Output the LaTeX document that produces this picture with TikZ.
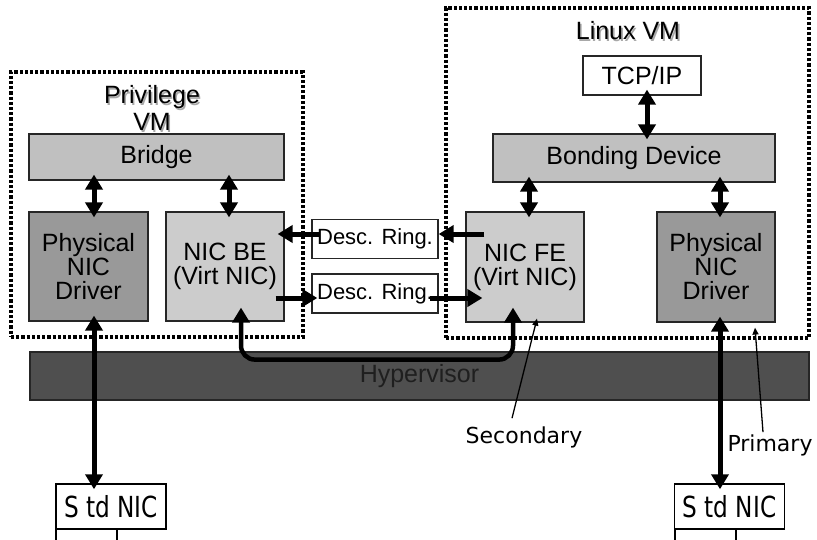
\documentclass[tikz,border=0pt]{standalone}
\usepackage{fontspec}
\setmainfont{Liberation Sans}
\newfontfamily\labelfont{DejaVu Sans}
\newfontfamily\nicfont[FakeStretch=0.8]{DejaVu Sans}
\usetikzlibrary{arrows.meta}
\definecolor{bridgegray}{HTML}{C0C0C0}
\definecolor{virtgray}{HTML}{CCCCCC}
\definecolor{physgray}{HTML}{999999}
\definecolor{hypergray}{HTML}{4F4F4F}
\definecolor{edgegray}{HTML}{262626}
\definecolor{shadowgray}{HTML}{A8A8A8}

\tikzset{bigtip/.tip={Triangle[length=15pt,width=17pt]}}

\begin{document}
\begin{tikzpicture}[x=1pt,y=1pt,
  box/.style={draw=edgegray, line width=1.2pt, inner sep=0pt, align=center,
              font=\fontsize{25}{24}\selectfont},
  ringbox/.style={draw=edgegray, line width=1.3pt, fill=white, inner sep=0pt,
              minimum width=126pt, minimum height=39pt, font=\fontsize{22}{24}\selectfont},
  nicbox/.style={draw=black, line width=1.5pt, fill=white, inner sep=0pt,
              minimum width=110pt, minimum height=45pt, font=\nicfont\fontsize{29}{30}\selectfont},
  stubbox/.style={draw=black, line width=1.3pt, fill=white, inner sep=0pt,
              minimum width=61pt, minimum height=20pt},
  vmframe/.style={draw=black, line width=3.2pt, dash pattern=on 3.2pt off 2pt, inner sep=0pt},
  vmtitle/.style={align=center, font=\fontsize{25}{27}\selectfont, inner sep=0pt},
  dbl/.style={line width=5pt, {bigtip}-{bigtip}, shorten <=-6pt, shorten >=-6pt},
  one/.style={line width=5pt, -{bigtip}},
  pointer/.style={line width=1.3pt, -{Triangle[length=7pt,width=6pt]}},
  note/.style={font=\labelfont\fontsize{22}{24}\selectfont, inner sep=0pt},
]
\useasboundingbox (0,0) rectangle (817,-539);
\fill[white] (0,0) rectangle (817,-539);

% --- virtual machine frames ---
\node[vmframe, minimum width=292pt, minimum height=265pt] (privvm) at (157,-204.5) {};
\node[vmframe, minimum width=363pt, minimum height=330pt] (linuxvm) at (627.5,-173) {};

% frame titles with a soft drop shadow
\node[vmtitle, text=shadowgray] at (153.5,-109.5) {Privilege\\VM};
\node[vmtitle] (privtitle) at (152,-108) {Privilege\\VM};
\node[vmtitle, text=shadowgray] at (629.5,-32.5) {Linux VM};
\node[vmtitle] (linuxtitle) at (628,-31) {Linux VM};

% --- hypervisor ---
\node[box, fill=hypergray, text=black!88, minimum width=779pt, minimum height=48pt] (hyper) at (419.5,-376) {Hypervisor};

% --- privilege VM components ---
\node[box, fill=bridgegray, minimum width=255pt, minimum height=46pt] (bridge) at (156.5,-157) {Bridge};
\node[box, fill=physgray, minimum width=119pt, minimum height=109pt] (physL) at (88.5,-266.5) {Physical\\NIC\\Driver};
\node[box, fill=virtgray, minimum width=118pt, minimum height=109pt] (nicbe) at (225,-266.5) {NIC BE\\(Virt NIC)};

% --- descriptor rings ---
\node[ringbox] (ring1) at (375,-239) {Desc. Ring.};
\node[ringbox] (ring2) at (375,-293.5) {Desc. Ring.};

% --- Linux VM components ---
\node[box, fill=white, minimum width=118pt, minimum height=39pt] (tcp) at (642,-75.5) {TCP/IP};
\node[box, fill=bridgegray, minimum width=282pt, minimum height=48pt] (bond) at (634,-158) {Bonding Device};
\node[box, fill=virtgray, minimum width=118pt, minimum height=110pt] (nicfe) at (525,-267) {NIC FE\\(Virt NIC)};
\node[box, fill=physgray, minimum width=118pt, minimum height=110pt] (physR) at (716,-267) {Physical\\NIC\\Driver};

% --- standard NICs ---
\node[stubbox] (stubL) at (86.5,-539) {};
\node[stubbox] (stubR) at (705.5,-539) {};
\node[nicbox] (stdL) at (111,-506.5) {S td NIC};
\node[nicbox] (stdR) at (729.5,-506.5) {S td NIC};

% --- vertical data paths ---
\draw[dbl] ([xshift=5.5pt]physL.north) -- ([xshift=5.5pt]physL.north |- bridge.south);
\draw[dbl] ([xshift=4pt]nicbe.north) -- ([xshift=4pt]nicbe.north |- bridge.south);
\draw[dbl] ([xshift=5pt]tcp.south) -- ([xshift=5pt]tcp.south |- bond.north);
\draw[dbl] ([xshift=4pt]nicfe.north) -- ([xshift=4pt]nicfe.north |- bond.south);
\draw[dbl] ([xshift=4pt]physR.north) -- ([xshift=4pt]physR.north |- bond.south);
\draw[dbl] ([xshift=5.5pt]physL.south) -- ([xshift=5.5pt]physL.south |- stdL.north);
\draw[dbl] ([xshift=4pt]physR.south) -- ([xshift=4pt]physR.south |- stdR.north);

% --- descriptor ring traffic ---
\draw[one] ([xshift=19pt,yshift=33pt]nicfe.west) -- ([yshift=5pt]ring1.east);
\draw[one] ([xshift=8pt,yshift=5pt]ring1.west) -- ([xshift=-7pt,yshift=32.5pt]nicbe.east);
\draw[one] ([xshift=-9pt,yshift=-31.5pt]nicbe.east) -- ([xshift=6pt,yshift=-4.5pt]ring2.west);
\draw[one] ([xshift=-9pt,yshift=-4.5pt]ring2.east) -- ([xshift=17pt,yshift=-31pt]nicfe.west);

% --- path through the hypervisor ---
\draw[line width=4.5pt, {bigtip}-{bigtip}, shorten <=-14pt, shorten >=-15pt, rounded corners=14pt]
  ([xshift=16pt]nicbe.south) -- ++(0,-38) -| ([xshift=-12pt]nicfe.south);

% --- annotations ---
\node[note] (sec) at (524,-437) {Secondary};
\node[note] (prim) at (770,-445) {Primary};
\draw[pointer] ([xshift=-12pt,yshift=8pt]sec.north) -- ([xshift=12pt,yshift=4pt]nicfe.south);
\draw[pointer] ([xshift=-7pt,yshift=2pt]prim.north) -- ([xshift=39pt,yshift=-5pt]physR.south);
\end{tikzpicture}
\end{document}
